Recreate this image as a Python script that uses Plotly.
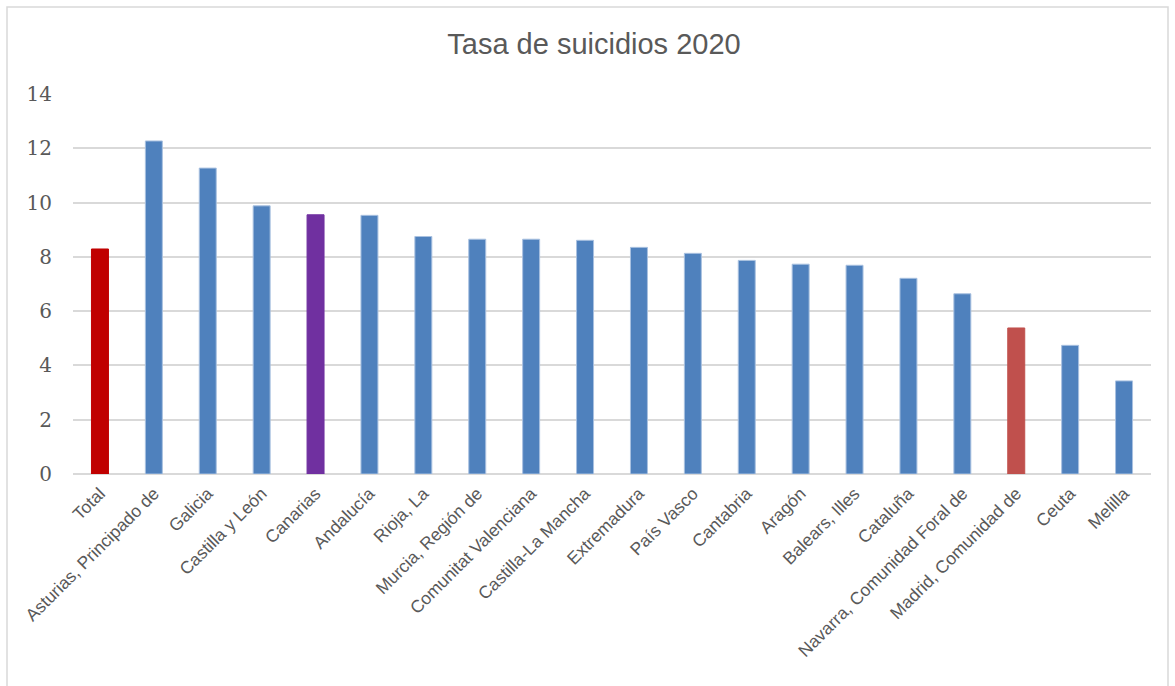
import plotly.graph_objects as go

categories = ["Total", "Asturias, Principado de", "Galicia", "Castilla y León", "Canarias",
              "Andalucía", "Rioja, La", "Murcia, Región de", "Comunitat Valenciana",
              "Castilla-La Mancha", "Extremadura", "País Vasco", "Cantabria", "Aragón",
              "Balears, Illes", "Cataluña", "Navarra, Comunidad Foral de",
              "Madrid, Comunidad de", "Ceuta", "Melilla"]
values = [8.29, 12.27, 11.27, 9.88, 9.55, 9.53, 8.75, 8.65, 8.65, 8.61, 8.35, 8.13,
          7.87, 7.73, 7.69, 7.21, 6.64, 5.38, 4.74, 3.43]
special_colors = {"Total": "#C00000", "Canarias": "#7030A0", "Madrid, Comunidad de": "#C0504D"}
default_color = "#4F81BD"
y_ticks = [0, 2, 4, 6, 8, 10, 12, 14]

colors = [special_colors.get(c, default_color) for c in categories]
line_colors = [special_colors.get(c, "#A9C1E0") for c in categories]

W, H = 1175, 686
ml, mr, mt, mb = 73, 24, 94, 212

fig = go.Figure(go.Bar(
    x=categories, y=values,
    marker=dict(color=colors, line=dict(color=line_colors, width=1)),
))

pw = W - ml - mr
ph = H - mt - mb
def px_x(px):
    return (px - ml) / pw
def px_y(py):
    return (H - mb - py) / ph

fig.add_shape(type="rect", xref="paper", yref="paper",
              x0=px_x(7), x1=px_x(1168), y0=px_y(700), y1=px_y(7),
              line=dict(color="#D9D9D9", width=1.5), fillcolor="rgba(0,0,0,0)", layer="below")

fig.update_layout(
    width=W, height=H,
    margin=dict(l=ml, r=mr, t=mt, b=mb, autoexpand=False),
    paper_bgcolor="white", plot_bgcolor="white",
    bargap=0.685,
    showlegend=False,
    title=dict(text="Tasa de suicidios 2020", x=594 / W, xref="container", y=1 - 44 / H,
               yref="container", yanchor="middle", xanchor="center",
               font=dict(family="Liberation Sans, Arial", size=29, color="#595959")),
    xaxis=dict(tickangle=-45, tickfont=dict(family="Liberation Sans, Arial", size=17.5, color="#595959"),
               showgrid=False, showline=False, ticks="", automargin=False, ticklabelstandoff=5),
    yaxis=dict(range=[0, 14], tickvals=y_ticks, showgrid=True, gridcolor="#D9D9D9", gridwidth=1.5,
               zeroline=True, zerolinecolor="#D9D9D9", zerolinewidth=1.5, showline=False, ticks="",
               tickfont=dict(family="DejaVu Serif, serif", size=20, color="#595959"),
               ticklabelstandoff=20, automargin=False),
)

fig.write_html("out.html")
